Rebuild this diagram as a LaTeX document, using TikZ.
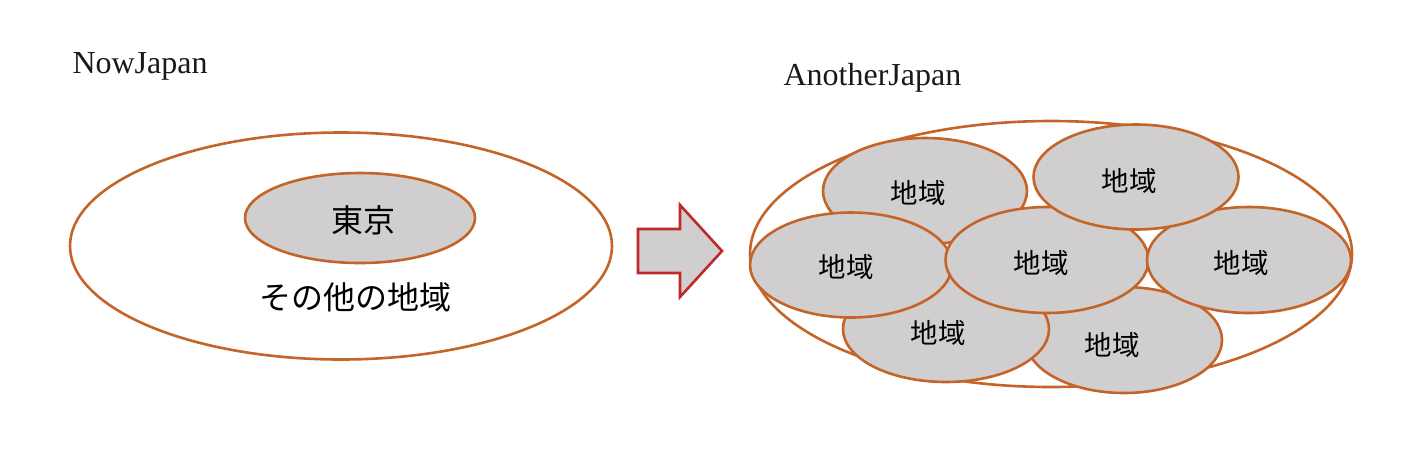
\documentclass[tikz,border=0pt]{standalone}
\usepackage{fontspec}
\setmainfont{Liberation Serif}
\newfontfamily\jp{Noto Sans CJK JP}
\usetikzlibrary{shapes.geometric}
\definecolor{edgeor}{RGB}{197,100,40}
\definecolor{fillgr}{RGB}{208,206,206}
\definecolor{arrred}{RGB}{192,40,42}
\tikzset{
  region/.style={ellipse, draw=edgeor, line width=2.6pt, fill=fillgr, inner sep=0pt},
  outer/.style={ellipse, draw=edgeor, line width=2.6pt, fill=white, inner sep=0pt},
  title/.style={anchor=base west, font=\fontsize{32}{36}\selectfont, text=black!90},
  jplab/.style={font=\jp\fontsize{27.5}{32}\selectfont, text=black},
  jpbig/.style={font=\jp\fontsize{32}{38}\selectfont, text=black}
}
\begin{document}
\begin{tikzpicture}[x=1pt,y=-1pt]
\useasboundingbox (0,0) rectangle (1408,448);
% titles
\node[title] (t1) at (69,73) {NowJapan};
\node[title] (t2) at (780,85) {AnotherJapan};
% left diagram
\node[outer, minimum width=542pt, minimum height=227pt] (all) at (341,246) {};
\node[region, minimum width=230pt, minimum height=90pt] (tokyo) at (360,218) {};
\node[jpbig] (tokyot) at (363,220) {東京};
\node[jpbig] (other) at (355,297) {その他の地域};
% arrow
\draw[arrred, line width=2.6pt, fill=fillgr, line join=miter]
  (638,229) -- (680,229) -- (680,205) -- (722,251) -- (680,297) -- (680,273) -- (638,273) -- cycle;
% right diagram
\node[outer, minimum width=602pt, minimum height=266pt] (big) at (1051,254) {};
\node[region, minimum width=204pt, minimum height=106pt] (r1) at (925,191) {};
\node[region, minimum width=196pt, minimum height=106pt] (r7) at (1124,340) {};
\node[region, minimum width=206pt, minimum height=106pt] (r6) at (946,329) {};
\node[region, minimum width=202pt, minimum height=105pt] (r3) at (851,265) {};
\node[region, minimum width=203pt, minimum height=106pt] (r4) at (1047,260) {};
\node[region, minimum width=204pt, minimum height=106pt] (r5) at (1249,260) {};
\node[region, minimum width=205pt, minimum height=105pt] (r2) at (1136,177) {};
\node[jplab] (l1) at (918,193) {地域};
\node[jplab] (l2) at (1129,181) {地域};
\node[jplab] (l3) at (846,267) {地域};
\node[jplab] (l4) at (1041,263) {地域};
\node[jplab] (l5) at (1241,263) {地域};
\node[jplab] (l6) at (938,333) {地域};
\node[jplab] (l7) at (1112,345) {地域};
\end{tikzpicture}
\end{document}
